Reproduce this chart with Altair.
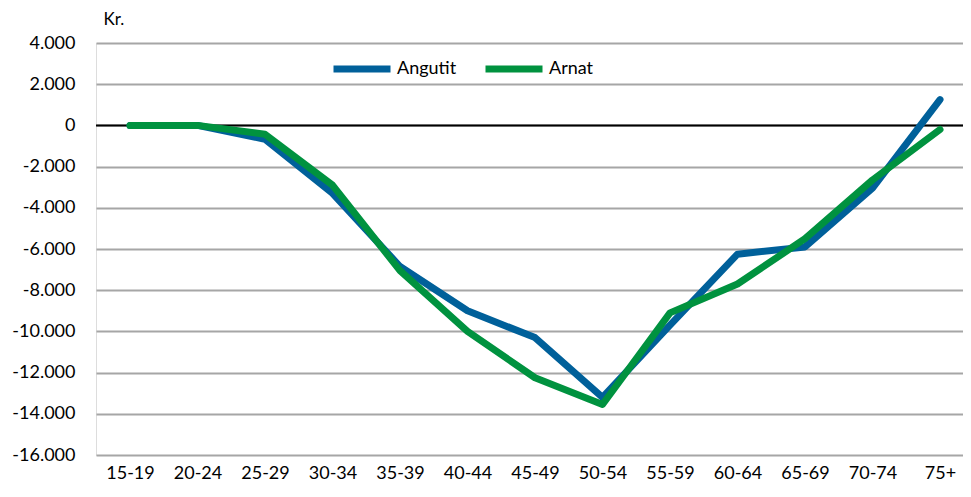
import altair as alt
import pandas as pd

categories = ["15-19", "20-24", "25-29", "30-34", "35-39", "40-44", "45-49",
              "50-54", "55-59", "60-64", "65-69", "70-74", "75+"]
angutit = [0, 0, -670, -3300, -6850, -9000, -10300, -13200, -9700, -6250, -5900, -3050, 1250]
arnat = [0, 0, -430, -2900, -7050, -10000, -12250, -13550, -9100, -7700, -5500, -2650, -200]
series_names = ["Angutit", "Arnat"]
series_colors = ["#00609A", "#00923F"]

rows = []
for name, vals in zip(series_names, [angutit, arnat]):
    for i, (c, v) in enumerate(zip(categories, vals)):
        rows.append({"alder": c, "kr": v, "serie": name, "idx": i})
df = pd.DataFrame(rows)

FONT = "Lato"
y_label_expr = "replace(replace(format(datum.value, ','), ',', '.'), '\u2212', '-')"
x_label_expr = "[" + ",".join("'" + c + "'" for c in categories) + "][datum.value]"

W = 867
STEP = 67.5
d0 = -34 / STEP
d1 = d0 + W / STEP

x = alt.X("idx:Q", title=None,
          scale=alt.Scale(domain=[d0, d1], nice=False, zero=False),
          axis=alt.Axis(values=list(range(len(categories))), labelExpr=x_label_expr,
                        labelAngle=0, domain=False, ticks=False, grid=False,
                        labelFontSize=18, labelColor="#000000", labelFont=FONT,
                        labelPadding=9, labelFlush=False, labelOverlap=False))
y = alt.Y("kr:Q", title="Kr.",
          scale=alt.Scale(domain=[-16000, 4000], nice=False, zero=False),
          axis=alt.Axis(values=list(range(-16000, 4001, 2000)), labelExpr=y_label_expr,
                        domain=False, ticks=False, grid=True, gridColor="#A6A6A6",
                        gridWidth=2, labelFontSize=18, labelColor="#000000",
                        labelFont=FONT, labelPadding=21,
                        titleAngle=0, titleAlign="left", titleBaseline="alphabetic",
                        titleX=7, titleY=-19, titleFontSize=17, titleFontWeight="normal",
                        titleFont=FONT, titleColor="#000000"))

lines = alt.Chart(df).mark_line(strokeWidth=7, strokeCap="round", strokeJoin="round").encode(
    x=x, y=y,
    order="idx:Q",
    color=alt.Color("serie:N", sort=series_names,
                    scale=alt.Scale(domain=series_names, range=series_colors),
                    legend=alt.Legend(title=None, orient="none", legendX=234, legendY=-6,
                                      direction="horizontal", symbolType="stroke",
                                      symbolStrokeWidth=7, symbolSize=3249,
                                      labelFontSize=18, labelFont=FONT, labelColor="#000000",
                                      labelOffset=3, columnPadding=14)),
)

zero = alt.Chart(pd.DataFrame({"v": [0]})).mark_rule(color="#000000", strokeWidth=2).encode(
    y=alt.Y("v:Q", scale=alt.Scale(domain=[-16000, 4000], nice=False, zero=False))
)

chart = alt.layer(zero, lines).properties(
    width=W, height=412,
    autosize=alt.AutoSizeParams(type="none"),
    padding={"left": 88, "top": 35, "right": 0, "bottom": 34},
).configure_view(stroke=None).configure(background="#FFFFFF")

chart.save("out.html", embed_options={"renderer": "svg", "actions": False})
